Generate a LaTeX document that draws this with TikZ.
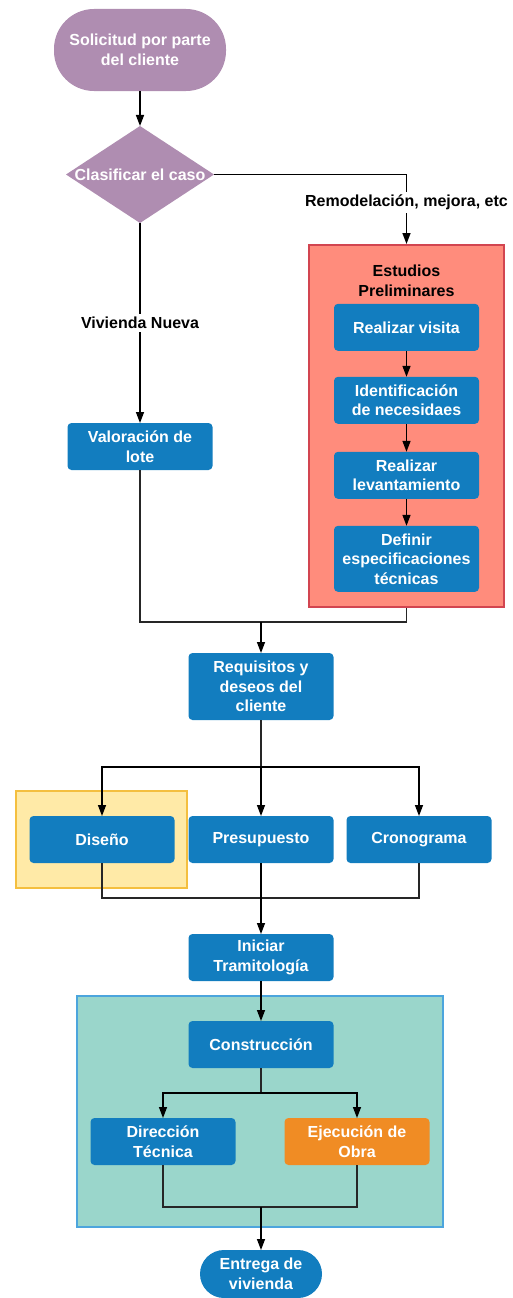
\documentclass[tikz,border=0pt]{standalone}
\usepackage{fontspec}
\setmainfont{Liberation Sans}
\usepackage{xcolor}
\usepackage{tikz}
\usetikzlibrary{shapes,arrows.meta,calc,positioning}

\definecolor{procblue}{HTML}{127DBF}
\definecolor{termpurple}{HTML}{AF8DB1}
\definecolor{salmon}{HTML}{FF8C7C}
\definecolor{salmonedge}{HTML}{D24550}
\definecolor{softyellow}{HTML}{FFEAA7}
\definecolor{yellowedge}{HTML}{F4BF3F}
\definecolor{teal}{HTML}{9AD6CB}
\definecolor{tealedge}{HTML}{4CA5DD}
\definecolor{obraorange}{HTML}{F08C24}
\newcommand{\boxfont}{\fontsize{16}{19.5}\selectfont\bfseries}

\begin{document}
\begin{tikzpicture}[
  x=1pt, y=-1pt,
  node distance=27pt,
  proc/.style={rectangle, fill=procblue, text=white, minimum height=47pt, minimum width=145pt, font=\boxfont, rounded corners=4pt, align=center, inner sep=0pt, outer sep=0pt},
  term/.style={rectangle, fill=termpurple, text=white, font=\boxfont, rounded corners=40pt, align=center, inner sep=0pt, outer sep=0pt},
  decision/.style={diamond, fill=termpurple, text=white, minimum width=148pt, minimum height=97pt, font=\boxfont, inner sep=0pt, outer sep=0pt},
  group/.style={rectangle, line width=2pt, inner sep=0pt},
  lbl/.style={fill=white, font=\boxfont, inner sep=3pt},
  arrow/.style={-{Triangle[length=11pt,width=8pt]}, line width=1.4pt, black},
  line/.style={line width=1.1pt, black!85}
]
\useasboundingbox (0,0) rectangle (512,1298);

% Background groups
\node[group, fill=salmon, draw=salmonedge, minimum width=195pt, minimum height=362pt] (estudiosbox) at (406.5,426) {};
\node[group, fill=softyellow, draw=yellowedge, minimum width=171pt, minimum height=97pt] (disenobox) at (101.5,839.5) {};
\node[group, fill=teal, draw=tealedge, minimum width=366pt, minimum height=231pt] (obrabox) at (260,1111.5) {};

% Top: request and classification
\node[term, minimum width=172pt, minimum height=82pt] (solicitud) at (140,50) {Solicitud por parte\\del cliente};
\node[decision, below=35pt of solicitud] (clasificar) {\makebox[0pt]{Clasificar el caso}};

% Left branch: new house
\node[proc, below=200pt of clasificar] (valoracion) {Valoración de\\lote};

% Right branch: preliminary studies
\node[font=\boxfont, align=center, inner sep=0pt] (estudios) at (406.5,281) {Estudios\\Preliminares};
\node[proc, below=7pt of estudios] (visita) {Realizar visita};
\node[proc, below=26pt of visita] (identificacion) {Identificación\\de necesidaes};
\node[proc, below=28pt of identificacion] (levantamiento) {Realizar\\levantamiento};
\node[proc, minimum height=66pt, below=27pt of levantamiento] (especificaciones) {Definir\\especificaciones\\técnicas};

% Client requirements
\node[proc, minimum height=67pt] (requisitos) at (261,686.5) {Requisitos y\\deseos del\\cliente};
\coordinate[above=31pt of requisitos] (union1);

% Design, budget, schedule
\node[proc, below=96pt of requisitos] (presupuesto) {Presupuesto};
\node[proc, left=14pt of presupuesto] (diseno) {Diseño};
\node[proc, right=13pt of presupuesto] (cronograma) {Cronograma};
\coordinate[below=47pt of requisitos] (reparto1);
\coordinate[below=35pt of presupuesto] (union2);

% Paperwork and construction
\node[proc, below=71pt of presupuesto] (tramitologia) {Iniciar\\Tramitología};
\node[proc, below=40pt of tramitologia] (construccion) {Construcción};
\node[proc, below=50pt of construccion, xshift=-98pt] (direccion) {Dirección\\Técnica};
\node[proc, fill=obraorange, below=50pt of construccion, xshift=96pt] (ejecucion) {Ejecución de\\Obra};
\coordinate[below=25pt of construccion] (reparto2);
\coordinate[below=139pt of construccion] (union3);

% Delivery
\node[term, fill=procblue, minimum width=122pt, minimum height=48pt, rounded corners=24pt, below=43pt of union3] (entrega) {Entrega de\\vivienda};

% Arrows
\draw[arrow] (solicitud) -- (clasificar);
\draw[arrow] (clasificar.east) -| node[lbl, pos=0.7] {Remodelación, mejora, etc} (estudiosbox.north);
\draw[arrow] (clasificar) -- node[lbl] {Vivienda Nueva} (valoracion);
\draw[arrow] (visita) -- (identificacion);
\draw[arrow] (identificacion) -- (levantamiento);
\draw[arrow] (levantamiento) -- (especificaciones);

\draw[line] (valoracion) |- (union1);
\draw[line] (estudiosbox) |- (union1);
\draw[arrow] (union1) -- (requisitos);

\draw[line] (requisitos) -- (reparto1);
\draw[arrow] (reparto1) -| (diseno);
\draw[arrow] (reparto1) -- (presupuesto);
\draw[arrow] (reparto1) -| (cronograma);

\draw[line] (diseno) |- (union2);
\draw[line] (cronograma) |- (union2);
\draw[arrow] (presupuesto) -- (tramitologia);
\draw[arrow] (tramitologia) -- (construccion);

\draw[line] (construccion) -- (reparto2);
\draw[arrow] (reparto2) -| (direccion);
\draw[arrow] (reparto2) -| (ejecucion);
\draw[line] (direccion) |- (union3);
\draw[line] (ejecucion) |- (union3);
\draw[arrow] (union3) -- (entrega);

\end{tikzpicture}
\end{document}
